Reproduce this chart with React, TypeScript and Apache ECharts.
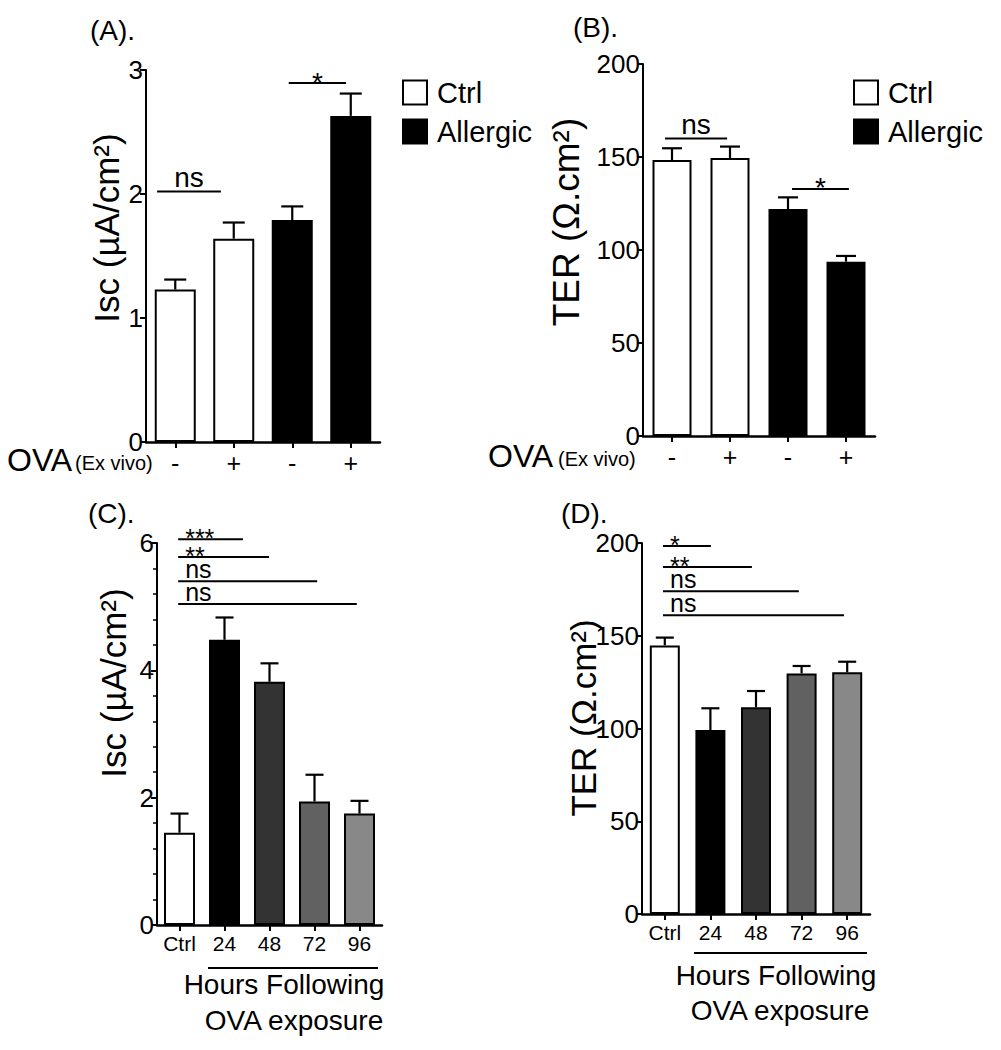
import React, { useEffect, useRef } from "react";
import * as echarts from "echarts";

const FONT = '"Liberation Sans", Arial, Helvetica, sans-serif';

// Panel A: Isc, ex vivo OVA
const aCats = ["Ctrl -", "Ctrl +", "Allergic -", "Allergic +"];
const aSigns = ["-", "+", "-", "+"];
const aGroup = ["Ctrl", "Ctrl", "Allergic", "Allergic"];
const aMeans = [1.23, 1.64, 1.79, 2.63];
const aSem = [0.08, 0.13, 0.11, 0.18];
const aSigFrom = [-0.31, 1.94];
const aSigTo = [0.78, 2.92];
const aSigY = [2.02, 2.895];
const aSigLabel = ["ns", "*"];

// Panel B: TER, ex vivo OVA
const bCats = ["Ctrl -", "Ctrl +", "Allergic -", "Allergic +"];
const bSigns = ["-", "+", "-", "+"];
const bGroup = ["Ctrl", "Ctrl", "Allergic", "Allergic"];
const bMeans = [148.4, 149.5, 122.0, 93.7];
const bSem = [6.3, 6.1, 6.3, 3.1];
const bSigFrom = [-0.12, 2.07];
const bSigTo = [0.95, 3.05];
const bSigY = [160, 132.8];
const bSigLabel = ["ns", "*"];

// Panel C: Isc, hours following OVA exposure
const cCats = ["Ctrl", "24", "48", "72", "96"];
const cColors = ["#ffffff", "#000000", "#333333", "#616161", "#888888"];
const cMeans = [1.45, 4.48, 3.82, 1.94, 1.75];
const cSem = [0.3, 0.35, 0.29, 0.42, 0.2];
const cSigFrom = [-0.03, -0.03, -0.03, -0.03];
const cSigTo = [1.41, 1.99, 3.06, 3.94];
const cSigY = [6.06, 5.78, 5.4, 5.04];
const cSigLabel = ["***", "**", "ns", "ns"];

// Panel D: TER, hours following OVA exposure
const dCats = ["Ctrl", "24", "48", "72", "96"];
const dColors = ["#ffffff", "#000000", "#333333", "#616161", "#888888"];
const dMeans = [144.8, 99.2, 111.4, 129.7, 130.3];
const dSem = [4.2, 11.7, 8.8, 4.0, 5.7];
const dSigFrom = [-0.04, -0.04, -0.04, -0.04];
const dSigTo = [1.01, 1.91, 2.94, 3.93];
const dSigY = [198.4, 187, 174, 161];
const dSigLabel = ["*", "**", "ns", "ns"];

const groupStyle: Record<string, any> = {
  Ctrl: { color: "#ffffff", borderColor: "#000000", borderWidth: 2 },
  Allergic: { color: "#000000", borderColor: "#000000", borderWidth: 2 },
};

function errRender(capHalf: number) {
  return (params: any, api: any) => {
    const i = api.value(0);
    const m = api.value(1);
    const e = api.value(2);
    const p0 = api.coord([i, m]);
    const p1 = api.coord([i, m + e]);
    const st = { stroke: "#000", lineWidth: 2.2 };
    return {
      type: "group",
      children: [
        { type: "line", shape: { x1: p0[0], y1: p0[1], x2: p0[0], y2: p1[1] }, style: st },
        { type: "line", shape: { x1: p0[0] - capHalf, y1: p1[1], x2: p0[0] + capHalf, y2: p1[1] }, style: st },
      ],
    };
  };
}

function sigRender(from: number[], to: number[], labels: string[], fontSize: number, centered: boolean) {
  return (params: any, api: any) => {
    const k = params.dataIndex;
    const c0 = api.coord([0, api.value(1)]);
    const band = api.size([1, 0])[0];
    const x1 = c0[0] + from[k] * band;
    const x2 = c0[0] + to[k] * band;
    const y = c0[1];
    const lab = labels[k];
    const isStar = lab.charAt(0) === "*";
    // glyph centre: stars sit high in the em box, "ns" sits on the baseline
    const cy = isStar ? y - 1 : y - 0.5 * fontSize;
    return {
      type: "group",
      children: [
        { type: "line", shape: { x1, y1: y, x2, y2: y }, style: { stroke: "#000", lineWidth: 2 } },
        {
          type: "text",
          x: centered ? (x1 + x2) / 2 : x1 + 7,
          y: cy,
          style: {
            text: lab,
            font: `${fontSize}px ${FONT}`,
            lineHeight: 10,
            fill: "#000",
            align: centered ? "center" : "left",
            verticalAlign: "middle",
          },
        },
      ],
    };
  };
}

function yAxisCfg(gi: number, max: number, interval: number, minor: boolean) {
  return {
    type: "value",
    gridIndex: gi,
    min: 0,
    max,
    interval,
    splitLine: { show: false },
    axisLine: { show: true, lineStyle: { color: "#000", width: 2 } },
    axisTick: { show: true, length: 6, lineStyle: { color: "#000", width: 2 } },
    minorTick: { show: minor, splitNumber: 5, length: 4, lineStyle: { color: "#000", width: 1.5 } },
    axisLabel: { color: "#000", fontSize: 26, fontFamily: FONT, margin: 3 },
  };
}

function xAxisCfg(gi: number, cats: string[], labels: string[], fontSize: number, margin: number) {
  return {
    type: "category",
    gridIndex: gi,
    data: cats,
    axisLine: { show: true, onZero: false, lineStyle: { color: "#000", width: 2.5 } },
    axisTick: { show: true, alignWithLabel: true, length: 6, lineStyle: { color: "#000", width: 2 } },
    axisLabel: {
      color: "#000",
      fontSize,
      fontFamily: FONT,
      margin,
      interval: 0,
      formatter: (_v: string, idx: number) => labels[idx],
    },
  };
}

function groupBars(name: string, axis: number, group: string[], means: number[], width: number) {
  return {
    type: "bar",
    name,
    xAxisIndex: axis,
    yAxisIndex: axis,
    barWidth: width,
    barGap: "-100%",
    itemStyle: groupStyle[name],
    data: means.map((m, i) => (group[i] === name ? m : "-")),
    z: 2,
  };
}

function errSeries(axis: number, means: number[], sem: number[], capHalf: number) {
  return {
    type: "custom",
    xAxisIndex: axis,
    yAxisIndex: axis,
    renderItem: errRender(capHalf),
    encode: { x: 0, y: 1 },
    data: means.map((m, i) => [i, m, sem[i]]),
    clip: false,
    z: 3,
    silent: true,
  };
}

function sigSeries(axis: number, from: number[], to: number[], ys: number[], labels: string[], fs: number, centered: boolean) {
  return {
    type: "custom",
    xAxisIndex: axis,
    yAxisIndex: axis,
    renderItem: sigRender(from, to, labels, fs, centered),
    encode: { x: 0, y: 1 },
    data: ys.map((y) => [0, y]),
    clip: false,
    z: 4,
    silent: true,
  };
}

function txt(text: string, x: number, y: number, size: number, align = "left", rotation = 0) {
  return {
    type: "text",
    x,
    y,
    rotation,
    style: { text, font: `${size}px ${FONT}`, fill: "#000", align, verticalAlign: "middle" },
  };
}

function hline(x1: number, x2: number, y: number) {
  return { type: "line", shape: { x1, y1: y, x2, y2: y }, style: { stroke: "#000", lineWidth: 2 } };
}

export default function App() {
  const ref = useRef<HTMLDivElement>(null);
  useEffect(() => {
    document.body.style.margin = "0";
    document.body.style.overflow = "hidden";
    const chart = echarts.init(ref.current!, null, { renderer: "svg" });
    const legendBase = {
      orient: "vertical",
      icon: "rect",
      itemWidth: 24,
      itemHeight: 24,
      itemGap: 10,
      selectedMode: false,
      padding: 0,
      textStyle: { color: "#000", fontSize: 29, fontFamily: FONT, padding: [0, 0, 0, 5] },
      data: [
        { name: "Ctrl", itemStyle: groupStyle.Ctrl },
        { name: "Allergic", itemStyle: groupStyle.Allergic },
      ],
    };
    const option: any = {
      animation: false,
      backgroundColor: "#ffffff",
      textStyle: { fontFamily: FONT },
      legend: [
        { ...legendBase, left: 402, top: 78 },
        { ...legendBase, left: 853, top: 78 },
      ],
      grid: [
        { left: 146, top: 70, width: 234, height: 372 },
        { left: 643, top: 64, width: 232, height: 372 },
        { left: 157, top: 543, width: 225, height: 382 },
        { left: 642, top: 543, width: 228, height: 371 },
      ],
      xAxis: [
        xAxisCfg(0, aCats, aSigns, 25, 8),
        xAxisCfg(1, bCats, bSigns, 25, 8),
        xAxisCfg(2, cCats, cCats, 21, 8),
        xAxisCfg(3, dCats, dCats, 21, 8),
      ],
      yAxis: [
        yAxisCfg(0, 3, 1, false),
        yAxisCfg(1, 200, 50, false),
        yAxisCfg(2, 6, 2, true),
        yAxisCfg(3, 200, 50, false),
      ],
      series: [
        groupBars("Ctrl", 0, aGroup, aMeans, 41),
        groupBars("Allergic", 0, aGroup, aMeans, 41),
        groupBars("Ctrl", 1, bGroup, bMeans, 39),
        groupBars("Allergic", 1, bGroup, bMeans, 39),
        {
          type: "bar",
          name: "Isc time course",
          xAxisIndex: 2,
          yAxisIndex: 2,
          barWidth: 31,
          data: cMeans.map((v, i) => ({
            value: v,
            itemStyle: { color: cColors[i], borderColor: "#000", borderWidth: 2 },
          })),
        },
        {
          type: "bar",
          name: "TER time course",
          xAxisIndex: 3,
          yAxisIndex: 3,
          barWidth: 30,
          data: dMeans.map((v, i) => ({
            value: v,
            itemStyle: { color: dColors[i], borderColor: "#000", borderWidth: 2 },
          })),
        },
        errSeries(0, aMeans, aSem, 11),
        errSeries(1, bMeans, bSem, 10),
        errSeries(2, cMeans, cSem, 9),
        errSeries(3, dMeans, dSem, 9),
        sigSeries(0, aSigFrom, aSigTo, aSigY, aSigLabel, 28, true),
        sigSeries(1, bSigFrom, bSigTo, bSigY, bSigLabel, 28, true),
        sigSeries(2, cSigFrom, cSigTo, cSigY, cSigLabel, 25, false),
        sigSeries(3, dSigFrom, dSigTo, dSigY, dSigLabel, 25, false),
      ],
      graphic: [
        txt("(A).", 90, 30, 28),
        txt("(B).", 573, 27, 28),
        txt("(C).", 88, 513, 28),
        txt("(D).", 561, 513, 28),
        txt("Isc (µA/cm²)", 106, 228, 35, "center", Math.PI / 2),
        txt("TER (Ω.cm²)", 566, 222, 37, "center", Math.PI / 2),
        txt("Isc (µA/cm²)", 113, 683, 35, "center", Math.PI / 2),
        txt("TER (Ω.cm²)", 583, 718, 35, "center", Math.PI / 2),
        txt("OVA", 7, 460, 32),
        txt("(Ex vivo)", 75, 463, 20),
        txt("OVA", 488, 456, 32),
        txt("(Ex vivo)", 558, 459, 20),
        hline(208, 378, 968),
        txt("Hours Following", 284, 984, 28, "center"),
        txt("OVA exposure", 294, 1020, 28, "center"),
        hline(694, 867, 953),
        txt("Hours Following", 776, 975, 28, "center"),
        txt("OVA exposure", 780, 1010, 28, "center"),
      ],
    };
    chart.setOption(option);
    return () => chart.dispose();
  }, []);
  return (
    <div
      ref={ref}
      style={{ position: "absolute", left: 0, top: 0, width: 1001, height: 1050, background: "#fff" }}
    />
  );
}
